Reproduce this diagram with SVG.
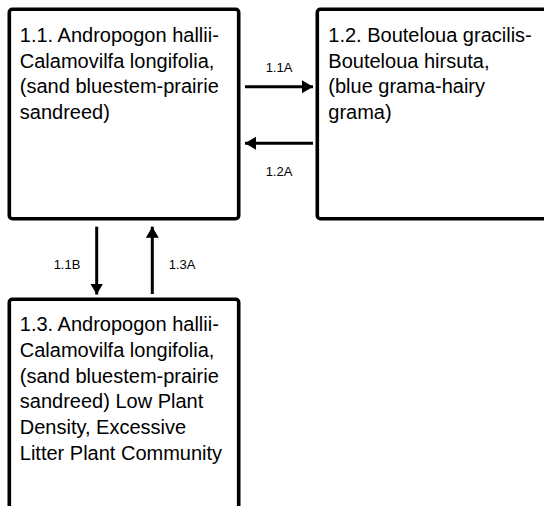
<svg xmlns="http://www.w3.org/2000/svg" width="544" height="506" viewBox="0 0 544 506">
<style>
.box{fill:#fff;stroke:#000;stroke-width:3.6}
.t{font-family:"Liberation Sans",Arial,sans-serif;font-size:20px;fill:#000}
.l{font-family:"Liberation Sans",Arial,sans-serif;font-size:13px;fill:#000;text-anchor:middle}
.c{stroke:#000;stroke-width:3;fill:none}
</style>
<defs>
<marker id="ah" markerUnits="userSpaceOnUse" markerWidth="12" markerHeight="14" refX="11" refY="7" orient="auto">
<path d="M0,0.5 L11,7 L0,13.5 Z" fill="#000"/>
</marker>
</defs>
<rect width="544" height="506" fill="#fff"/>
<g id="node-1-1">
<rect class="box" x="9.3" y="9.3" width="229.4" height="209.4" rx="3"/>
<text class="t" x="19.8" y="41.7">1.1. Andropogon hallii-</text>
<text class="t" x="19.8" y="67.5">Calamovilfa longifolia,</text>
<text class="t" x="19.8" y="93.3">(sand bluestem-prairie</text>
<text class="t" x="19.8" y="119.1">sandreed)</text>
</g>
<g id="node-1-2">
<rect class="box" x="317.3" y="9.3" width="229.4" height="209.4" rx="3"/>
<text class="t" x="328.3" y="41.7">1.2. Bouteloua gracilis-</text>
<text class="t" x="328.3" y="67.5">Bouteloua hirsuta,</text>
<text class="t" x="328.3" y="93.3">(blue grama-hairy</text>
<text class="t" x="328.3" y="119.1">grama)</text>
</g>
<g id="node-1-3">
<rect class="box" x="9.3" y="299.3" width="229.4" height="209.4" rx="3"/>
<text class="t" x="19.8" y="331">1.3. Andropogon hallii-</text>
<text class="t" x="19.8" y="356.8">Calamovilfa longifolia,</text>
<text class="t" x="19.8" y="382.6">(sand bluestem-prairie</text>
<text class="t" x="19.8" y="408.4">sandreed) Low Plant</text>
<text class="t" x="19.8" y="434.2">Density, Excessive</text>
<text class="t" x="19.8" y="460">Litter Plant Community</text>
</g>
<g id="connectors">
<line class="c" x1="245" y1="86.7" x2="313" y2="86.7" marker-end="url(#ah)"/>
<line class="c" x1="313" y1="143.3" x2="245" y2="143.3" marker-end="url(#ah)"/>
<line class="c" x1="96.7" y1="226.7" x2="96.7" y2="294.5" marker-end="url(#ah)"/>
<line class="c" x1="152.3" y1="294" x2="152.3" y2="226.7" marker-end="url(#ah)"/>
<text class="l" x="279" y="72">1.1A</text>
<text class="l" x="279" y="176">1.2A</text>
<text class="l" x="67" y="269">1.1B</text>
<text class="l" x="182" y="269">1.3A</text>
</g>
</svg>
